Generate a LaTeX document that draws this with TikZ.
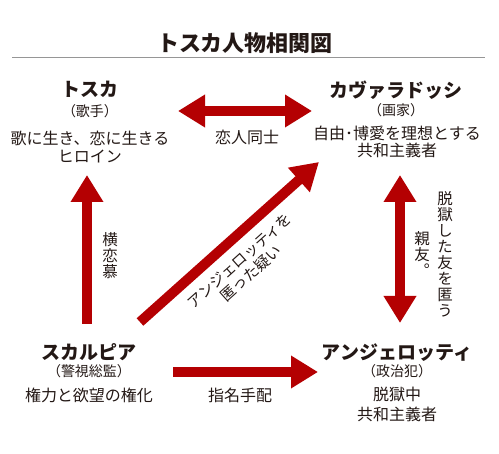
\documentclass[tikz,border=0pt]{standalone}
\usepackage{fontspec}
\usepackage{tikz}
\usetikzlibrary{arrows.meta}
\newfontfamily\jp{Noto Sans CJK JP}
\newfontfamily\jpv{Noto Sans CJK JP}[RawFeature=+vert]
\definecolor{myRed}{RGB}{180,0,2}
\definecolor{myInk}{RGB}{35,24,21}
\definecolor{myRule}{RGB}{150,150,150}

\begin{document}
\begin{tikzpicture}[
  x=1pt, y=-1pt,
  every node/.style={inner sep=0pt, text=myInk},
  ttl/.style={font=\jp\bfseries\fontsize{22}{24}\selectfont},
  persname/.style={font=\jp\bfseries\fontsize{19}{21}\selectfont},
  persrole/.style={font=\jp\fontsize{14}{15}\selectfont},
  desc/.style={font=\jp\fontsize{16}{18}\selectfont, align=center},
  tate/.style={font=\jpv\fontsize{15.5}{16}\selectfont, align=center},
  link/.style={draw=myRed, line width=10pt, -{Triangle[length=27pt, width=31pt]}},
  dlink/.style={draw=myRed, line width=10pt, {Triangle[length=27pt, width=31pt]}-{Triangle[length=27pt, width=31pt]}},
]
  \useasboundingbox (0,0) rectangle (499,454);

  % title
  \node[ttl] (title) at (245,43) {トスカ人物相関図};
  \coordinate (ruleL) at (12,58);
  \coordinate (ruleR) at (485,58);
  \draw[myRule, line width=1pt] (ruleL) -- (ruleR);

  % people
  \node[persname] (tosca) at (90,89) {トスカ};
  \node[persrole] (toscaRole) at (90,111) {（歌手）};
  \node[desc] (toscaDesc) at (90,147) {歌に生き、恋に生きる\\ヒロイン};

  \node[persname] (cava) at (396,90) {カヴァラドッシ};
  \node[persrole] (cavaRole) at (396,110) {（画家）};
  \node[desc, font=\jp\fontsize{16}{16.5}\selectfont] (cavaDesc) at (397,142) {自由･博愛を理想とする\\共和主義者};

  \node[persname] (scarpia) at (89,352) {スカルピア};
  \node[persrole] (scarpiaRole) at (89,371) {（警視総監）};
  \node[desc] (scarpiaDesc) at (89,395) {権力と欲望の権化};

  \node[persname] (angel) at (397,353) {アンジェロッティ};
  \node[persrole] (angelRole) at (397,371) {（政治犯）};
  \node[desc, font=\jp\fontsize{16}{20}\selectfont] (angelDesc) at (397,404) {脱獄中\\共和主義者};

  % arrow ends
  \coordinate (loveL) at (178,111);
  \coordinate (loveR) at (312,111);
  \coordinate (crushS) at (87,324);
  \coordinate (crushE) at (87,175);
  \coordinate (suspS) at (140,322);
  \coordinate (suspE) at (319,162);
  \coordinate (friendT) at (400,175);
  \coordinate (friendB) at (400,323);
  \coordinate (wantS) at (173,372);
  \coordinate (wantE) at (318,372);

  \draw[dlink] (loveL) -- (loveR);
  \draw[link] (crushS) -- (crushE);
  \draw[link] (suspS) -- (suspE);
  \draw[dlink] (friendT) -- (friendB);
  \draw[link] (wantS) -- (wantE);

  % relation labels
  \node[desc] (loveLbl) at (247,137) {恋人同士};
  \node[desc] (wantLbl) at (240,395) {指名手配};
  \node[tate] (crushLbl) at (110,256) {横\\恋\\慕};
  \node[tate] (friendLbl) at (422,254) {親\\友\\。};
  \node[tate] (hideLbl) at (445,254) {脱\\獄\\し\\た\\友\\を\\匿\\う};
  \node[desc, font=\jp\fontsize{15}{17}\selectfont, rotate=41.8] (suspLbl) at (245.5,267)
    {アンジェロッティを\\匿った疑い};
\end{tikzpicture}
\end{document}
